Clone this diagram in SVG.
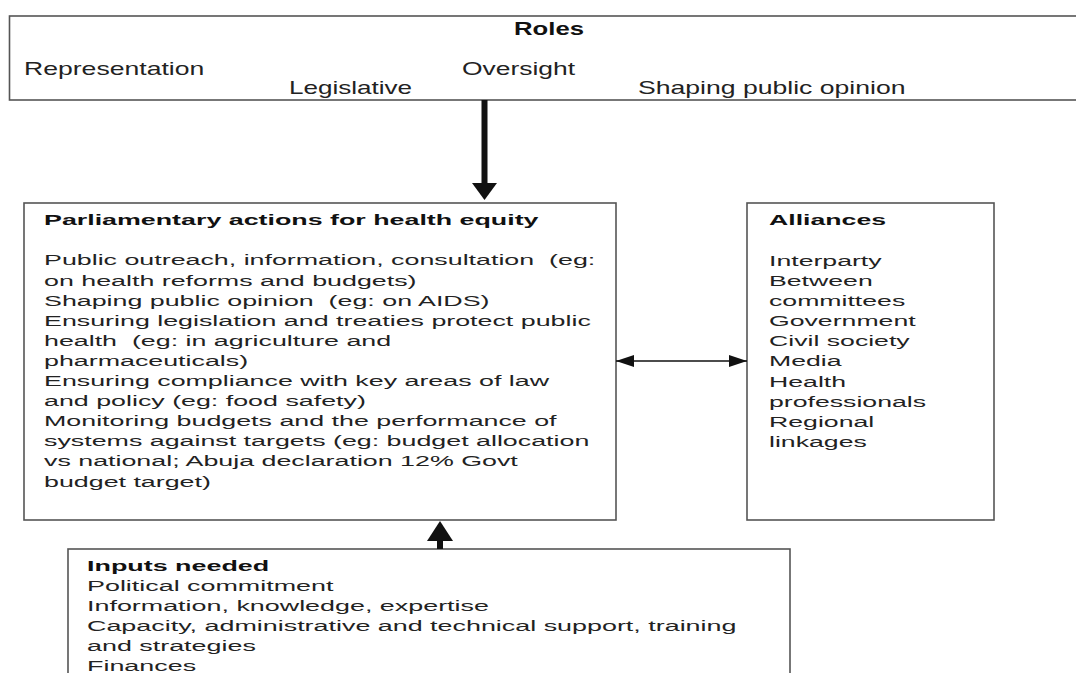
<svg xmlns="http://www.w3.org/2000/svg" width="1076" height="673" viewBox="0 0 1076 673">
  <style>
    .box { fill: #ffffff; stroke: #555555; stroke-width: 1.6; }
    .t { font-family: "Liberation Sans", Arial, sans-serif; fill: #222222; white-space: pre; }
    .b { font-weight: bold; fill: #111111; }
    .big { font-size: 17.5px; }
    .sm { font-size: 15.5px; }
  </style>
  <defs>
    <marker id="thin-head" viewBox="0 0 18 12" refX="18" refY="6" markerWidth="18" markerHeight="12" markerUnits="userSpaceOnUse" orient="auto-start-reverse">
      <path d="M0,0 L18,6 L0,12 Z" fill="#111111"/>
    </marker>
  </defs>
  <rect width="1076" height="673" fill="#ffffff"/>

  <!-- Roles -->
  <g id="roles">
    <rect class="box" x="9.5" y="16" width="1080" height="84"/>
    <g class="t big">
      <g transform="translate(514,0) scale(1.47,1)"><text class="b" x="0" y="35">Roles</text></g>
      <g transform="translate(24,0) scale(1.52,1)"><text x="0" y="75.5">Representation</text></g>
      <g transform="translate(462,0) scale(1.51,1)"><text x="0" y="75.5">Oversight</text></g>
      <g transform="translate(289,0) scale(1.49,1)"><text x="0" y="94.5">Legislative</text></g>
      <g transform="translate(638,0) scale(1.52,1)"><text x="0" y="94.5">Shaping public opinion</text></g>
    </g>
  </g>

  <!-- Parliamentary actions -->
  <g id="actions">
    <rect class="box" x="24" y="203" width="592" height="317"/>
    <g class="t sm" transform="translate(44,0) scale(1.73,1)">
      <text class="b" x="0" y="225.5">Parliamentary actions for health equity</text>
      <text x="0" y="265.5" xml:space="preserve">Public outreach, information, consultation  (eg:</text>
      <text x="0" y="285.6">on health reforms and budgets)</text>
      <text x="0" y="305.7" xml:space="preserve">Shaping public opinion  (eg: on AIDS)</text>
      <text x="0" y="325.8">Ensuring legislation and treaties protect public</text>
      <text x="0" y="345.9" xml:space="preserve">health  (eg: in agriculture and</text>
      <text x="0" y="366">pharmaceuticals)</text>
      <text x="0" y="386.1">Ensuring compliance with key areas of law</text>
      <text x="0" y="406.2">and policy (eg: food safety)</text>
      <text x="0" y="426.3">Monitoring budgets and the performance of</text>
      <text x="0" y="446.4">systems against targets (eg: budget allocation</text>
      <text x="0" y="466.5">vs national; Abuja declaration 12% Govt</text>
      <text x="0" y="486.6">budget target)</text>
    </g>
  </g>

  <!-- Alliances -->
  <g id="alliances">
    <rect class="box" x="747" y="203" width="247" height="317"/>
    <g class="t sm" transform="translate(769,0) scale(1.72,1)">
      <text class="b" x="0" y="225.5">Alliances</text>
      <text x="0" y="266">Interparty</text>
      <text x="0" y="286.1">Between</text>
      <text x="0" y="306.2">committees</text>
      <text x="0" y="326.3">Government</text>
      <text x="0" y="346.4">Civil society</text>
      <text x="0" y="366.5">Media</text>
      <text x="0" y="386.6">Health</text>
      <text x="0" y="406.7">professionals</text>
      <text x="0" y="426.8">Regional</text>
      <text x="0" y="446.9">linkages</text>
    </g>
  </g>

  <!-- Inputs needed -->
  <g id="inputs">
    <rect class="box" x="68" y="549" width="722" height="140"/>
    <g class="t sm" transform="translate(87,0) scale(1.735,1)">
      <text class="b" x="0" y="571">Inputs needed</text>
      <text x="0" y="591">Political commitment</text>
      <text x="0" y="611">Information, knowledge, expertise</text>
      <text x="0" y="631">Capacity, administrative and technical support, training</text>
      <text x="0" y="651">and strategies</text>
      <text x="0" y="671">Finances</text>
    </g>
  </g>

  <!-- Connectors -->
  <g id="connectors">
    <!-- roles feed into actions -->
    <rect x="481.5" y="100" width="6" height="84" fill="#111111"/>
    <path d="M472,183 L497,183 L484.5,200 Z" fill="#111111"/>
    <!-- inputs support actions -->
    <rect x="437" y="540" width="6" height="9" fill="#111111"/>
    <path d="M427,541 L453,541 L440,521 Z" fill="#111111"/>
    <!-- actions and alliances, both ways -->
    <line x1="616" y1="361" x2="747" y2="361" stroke="#111111" stroke-width="1.4" marker-start="url(#thin-head)" marker-end="url(#thin-head)"/>
  </g>
</svg>
